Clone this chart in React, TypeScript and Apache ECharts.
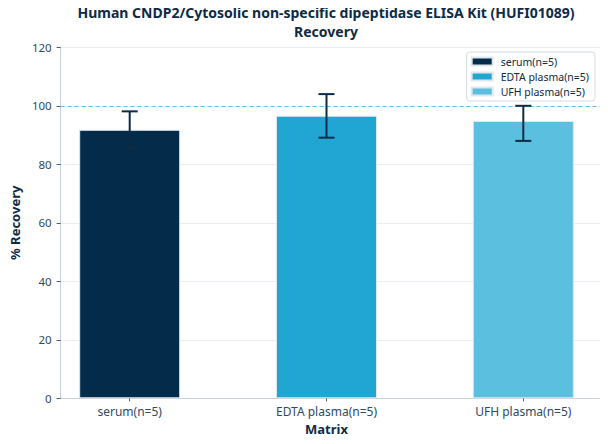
import React, { useEffect, useRef } from "react";
import * as echarts from "echarts";

const TITLE_LINES = [
  "Human CNDP2/Cytosolic non-specific dipeptidase ELISA Kit (HUFI01089)",
  "Recovery",
];
const CATEGORIES = ["serum(n=5)", "EDTA plasma(n=5)", "UFH plasma(n=5)"];
const MEANS = [91.8, 96.6, 94.8];
const ERR_LOW = [85.6, 89.1, 88.0];
const ERR_HIGH = [98.1, 104.0, 100.0];
const COLORS = ["#042b4a", "#21a6d3", "#5bbfe0"];
const Y_TICKS = [0, 20, 40, 60, 80, 100, 120];
const REFERENCE = 100;
const X_NAME = "Matrix";
const Y_NAME = "% Recovery";

const TEXT = "#0d2b45";
const LABEL = "#2f4a62";
const FONT = "Noto Sans";

export default function App() {
  const ref = useRef<HTMLDivElement>(null);
  useEffect(() => {
    if (!ref.current) return;
    const chart = echarts.init(ref.current, undefined, { renderer: "svg" });
    const yMin = Y_TICKS[0];
    const yMax = Y_TICKS[Y_TICKS.length - 1];
    const yStep = Y_TICKS[1] - Y_TICKS[0];

    const barSeries = CATEGORIES.map((name, i) => ({
      type: "bar",
      name,
      xAxisIndex: 1,
      yAxisIndex: 1,
      barWidth: 101,
      barGap: "-100%",
      clip: false,
      z: 2,
      itemStyle: { color: COLORS[i], borderColor: "#dfe7ee", borderWidth: 1 },
      data: CATEGORIES.map((_, j) => (j === i ? MEANS[j] : null)),
    }));

    const titleStyle = {
      fontFamily: FONT,
      fontSize: 14,
      fontWeight: "bold",
      color: TEXT,
      lineHeight: 16,
    };

    chart.setOption({
      animation: false,
      textStyle: { fontFamily: FONT },
      title: {
        text: TITLE_LINES[0],
        subtext: TITLE_LINES[1],
        left: 326,
        textAlign: "center",
        top: 4,
        padding: 0,
        itemGap: 3,
        textStyle: titleStyle,
        subtextStyle: titleStyle,
      },
      legend: {
        data: CATEGORIES,
        orient: "vertical",
        right: 13,
        top: 52,
        padding: [3, 6, 3, 4],
        itemGap: 2,
        itemWidth: 21,
        itemHeight: 8,
        icon: "rect",
        borderColor: "#d3dce4",
        borderWidth: 1,
        borderRadius: 3,
        backgroundColor: "#ffffff",
        textStyle: {
          fontFamily: FONT,
          fontSize: 10.5,
          color: TEXT,
          lineHeight: 13,
          padding: [0, 0, 0, 3],
        },
      },
      grid: [
        { left: 53, right: 8, top: 47.3, bottom: 45.7 },
        { left: 129.7, right: 84.7, top: 47.3, bottom: 45.7 },
      ],
      xAxis: [
        {
          type: "value",
          gridIndex: 0,
          min: 0,
          max: 1,
          axisLine: { show: true, lineStyle: { color: "#c6d1da", width: 1 } },
          axisTick: { show: false },
          axisLabel: { show: false },
          splitLine: { show: false },
        },
        {
          type: "category",
          gridIndex: 1,
          boundaryGap: false,
          data: CATEGORIES,
          axisLine: { show: false },
          axisTick: {
            show: true,
            length: 3,
            lineStyle: { color: "#4a5f72" },
          },
          axisLabel: { fontFamily: FONT, fontSize: 12, color: LABEL, margin: 7 },
          name: X_NAME,
          nameLocation: "middle",
          nameGap: 23,
          nameTextStyle: { fontFamily: FONT, fontSize: 13, fontWeight: "bold", color: TEXT },
        },
      ],
      yAxis: [
        {
          type: "value",
          gridIndex: 0,
          min: yMin,
          max: yMax,
          interval: yStep,
          axisLine: { show: true, lineStyle: { color: "#c6d1da", width: 1 } },
          axisTick: { show: true, length: 4, lineStyle: { color: "#4a5f72" } },
          axisLabel: { fontFamily: FONT, fontSize: 11.5, color: LABEL, margin: 9 },
          splitLine: { show: true, lineStyle: { color: "#e8eef3", width: 1 } },
          name: Y_NAME,
          nameLocation: "middle",
          nameGap: 33,
          nameTextStyle: { fontFamily: FONT, fontSize: 13, fontWeight: "bold", color: TEXT },
        },
        {
          type: "value",
          gridIndex: 1,
          min: yMin,
          max: yMax,
          show: false,
          splitLine: { show: false },
        },
      ],
      series: [
        {
          type: "line",
          xAxisIndex: 0,
          yAxisIndex: 0,
          data: [],
          silent: true,
          markLine: {
            silent: true,
            symbol: "none",
            label: { show: false },
            lineStyle: { color: "#5bc4e6", type: [4, 3], width: 1 },
            data: [{ yAxis: REFERENCE }],
          },
        },
        ...barSeries,
        {
          type: "custom",
          xAxisIndex: 1,
          yAxisIndex: 1,
          z: 5,
          clip: false,
          data: CATEGORIES.map((_, i) => [i, ERR_LOW[i], ERR_HIGH[i]]),
          renderItem: (params: any, api: any) => {
            const lo = api.coord([api.value(0), api.value(1)]);
            const hi = api.coord([api.value(0), api.value(2)]);
            const half = 8;
            const style = { stroke: "#0d2b45", lineWidth: 2 };
            return {
              type: "group",
              children: [
                { type: "line", shape: { x1: hi[0], y1: hi[1], x2: lo[0], y2: lo[1] }, style },
                { type: "line", shape: { x1: hi[0] - half, y1: hi[1], x2: hi[0] + half, y2: hi[1] }, style },
                { type: "line", shape: { x1: lo[0] - half, y1: lo[1], x2: lo[0] + half, y2: lo[1] }, style },
              ],
            };
          },
        },
      ],
    });
    return () => chart.dispose();
  }, []);
  return <div ref={ref} style={{ width: 608, height: 444, margin: -8 }} />;
}
